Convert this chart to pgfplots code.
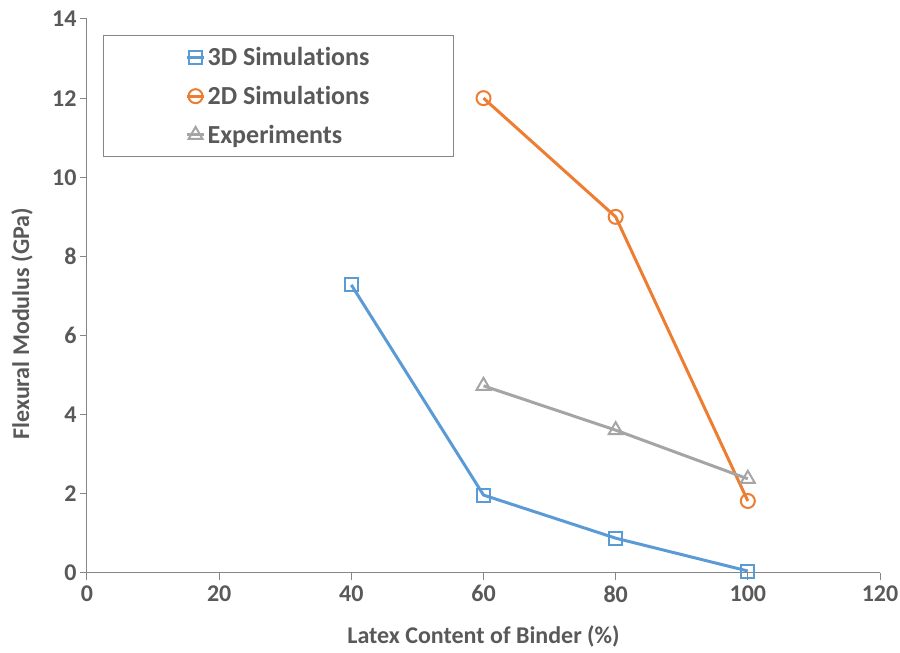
\documentclass[border=0pt]{standalone}
\usepackage{pgfplots}
\pgfplotsset{compat=1.18}
\usepackage{fontspec}
\setmainfont{Carlito}[Ligatures={NoCommon}]
\definecolor{txt}{HTML}{595959}
\definecolor{axl}{HTML}{868686}
\definecolor{c3d}{HTML}{5B9BD5}
\definecolor{c2d}{HTML}{ED7D31}
\definecolor{cex}{HTML}{A5A5A5}
\begin{document}
\begin{tikzpicture}[font=\fontsize{24}{28}\selectfont\bfseries]
\path[use as bounding box] (0,0) rectangle (900pt,653pt);
\begin{axis}[
  at={(87pt,80pt)}, anchor=south west,
  scale only axis, width=793pt, height=554pt,
  xmin=0, xmax=120, ymin=0, ymax=14,
  xtick={0,20,...,120}, ytick={0,2,...,14},
  axis lines=left, axis line style={-, axl, line width=1pt},
  tick align=outside, major tick length=7pt,
  tick style={axl, line width=1pt},
  /pgf/number format/assume math mode=true,
  tick label style={text=txt},
  xticklabel style={yshift=-2pt},
  xlabel={Latex Content of Binder (\%)},
  ylabel={Flexural Modulus (GPa)},
  label style={text=txt},
  xlabel style={at={(axis description cs:0.5,-0.114)}, anchor=center},
  ylabel style={at={(axis description cs:-0.082,0.45)}, anchor=center, rotate=0},
  clip=false,
  legend style={at={(axis description cs:0.0202,0.971)}, anchor=north west,
    draw=axl, line width=1pt, inner xsep=82pt, inner ysep=10pt,
    row sep=15pt, text=txt, legend cell align=left,
    font=\fontsize{26}{30}\selectfont\bfseries},
  legend image code/.code={\draw[mark repeat=2,mark phase=2] plot coordinates {(0cm,0cm) (0.3cm,0cm) (0.6cm,0cm)};},
]
\addplot[c3d, line width=3pt, mark=square, mark size=6.5pt, mark options={line width=2pt, fill=white}]
  coordinates {(40,7.28) (60,1.97) (80,0.88) (100,0.05)};
\addlegendentry{3D Simulations}
\addplot[c2d, line width=3pt, mark=o, mark size=7pt, mark options={line width=2pt, fill=white}]
  coordinates {(60,12.0) (80,9.0) (100,1.82)};
\addlegendentry{2D Simulations}
\addplot[cex, line width=3pt, mark=triangle, mark size=8pt, mark options={line width=2pt, fill=white}]
  coordinates {(60,4.73) (80,3.61) (100,2.38)};
\addlegendentry{Experiments}
\end{axis}
\end{tikzpicture}
\end{document}
